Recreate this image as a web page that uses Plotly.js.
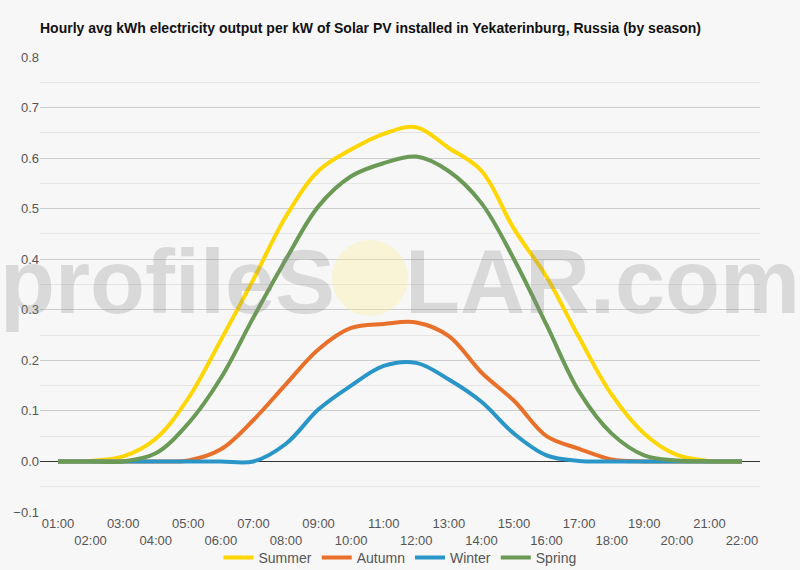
<!DOCTYPE html>
<html>
<head>
<meta charset="utf-8">
<script src="https://cdn.plot.ly/plotly-3.0.1.min.js"></script>
<style>
html,body{margin:0;padding:0;background:#f7f7f7;}
#chart{width:800px;height:570px;}
</style>
</head>
<body>
<div id="chart"></div>
<script>
const hours = [1,2,3,4,5,6,7,8,9,10,11,12,13,14,15,16,17,18,19,20,21,22];
const hourLabels = ["01:00","02:00","03:00","04:00","05:00","06:00","07:00","08:00","09:00","10:00","11:00","12:00","13:00","14:00","15:00","16:00","17:00","18:00","19:00","20:00","21:00","22:00"];
const summer = [0,0.001,0.01,0.045,0.125,0.24,0.36,0.485,0.575,0.617,0.648,0.661,0.62,0.575,0.46,0.365,0.245,0.132,0.055,0.013,0.001,0];
const autumn = [0,0,0,0,0.002,0.024,0.082,0.153,0.222,0.264,0.272,0.275,0.248,0.176,0.12,0.05,0.025,0.004,0,0,0,0];
const winter = [0,0,0,0,0,0,0,0.035,0.103,0.15,0.189,0.195,0.162,0.118,0.055,0.012,0.001,0,0,0,0,0];
const spring = [0,0,0,0.016,0.075,0.165,0.285,0.40,0.505,0.564,0.59,0.603,0.574,0.511,0.40,0.27,0.138,0.055,0.012,0.002,0,0];

const seriesNames = ["Summer","Autumn","Winter","Spring"];
const seriesData = [summer, autumn, winter, spring];
const seriesColors = ["#FFD600","#E8702A","#2A96C8","#6B9A56"];

const traces = seriesNames.map((n,i)=>({
  x: hours, y: seriesData[i], name: n, type: 'scatter', mode: 'lines',
  line: {color: seriesColors[i], width: 4, shape: 'spline', smoothing: 1},
  hoverinfo: 'x+y+name'
}));

const tickText = hourLabels.map((t,i)=> i%2===0 ? t : "<br>"+t);

const layout = {
  width: 800, height: 570,
  paper_bgcolor: '#f7f7f7', plot_bgcolor: '#f7f7f7',
  margin: {l:40, r:40, t:57, b:58, autoexpand: false},
  font: {family: 'Liberation Sans, Arial, sans-serif', color: '#555', size: 13},
  title: {text: 'Hourly avg kWh electricity output per kW of Solar PV installed in Yekaterinburg, Russia (by season)',
    font: {family: 'Liberation Sans, Arial, sans-serif', size: 14, color: '#111', weight: 'bold'},
    x: 40/800, xref: 'container', xanchor: 'left', y: 1-28/570, yref: 'container', yanchor: 'middle'},
  xaxis: {
    range: [0.447, 22.553], tickmode: 'array', tickvals: hours, ticktext: tickText,
    tickangle: 0, automargin: false, ticklabelstandoff: 2,
    showgrid: false, zeroline: false, showline: false, ticks: '',
    tickfont: {size: 13, color: '#555'}, fixedrange: true
  },
  yaxis: {
    range: [-0.1, 0.8], dtick: 0.1, tick0: 0, tickformat: '.1f', automargin: false,
    gridcolor: '#cccccc', gridwidth: 1, zeroline: true, zerolinecolor: '#333', zerolinewidth: 1,
    showline: false, ticks: '', tickfont: {size: 13, color: '#555'},
    minor: {dtick: 0.05, showgrid: true, gridcolor: '#e4e4e4', gridwidth: 1},
    fixedrange: true
  },
  legend: {orientation: 'h', x: 0.5, xanchor: 'center', yref: 'container', y: 1-558/570, yanchor: 'middle',
    font: {size: 14, color: '#555'}, bgcolor: 'rgba(0,0,0,0)'},
  shapes: [{type: 'circle', xref: 'paper', yref: 'paper', layer: 'above',
    x0: (332-40)/720, x1: (408-40)/720, y0: (512-316)/455, y1: (512-240)/455,
    line: {width: 0}, fillcolor: 'rgba(250,238,150,0.35)'}],
  annotations: [{
    text: "profileS<span style='color:rgba(0,0,0,0)'>O</span>LAR.com",
    xref: 'paper', yref: 'paper', x: (400-40)/720, y: (512-282)/455,
    xanchor: 'center', yanchor: 'middle', showarrow: false,
    font: {family: 'Liberation Sans, Arial, sans-serif', size: 90, color: 'rgba(140,140,140,0.28)', weight: 'bold'}
  }]
};

Plotly.newPlot('chart', traces, layout, {displayModeBar: false, staticPlot: true});
</script>
</body>
</html>
